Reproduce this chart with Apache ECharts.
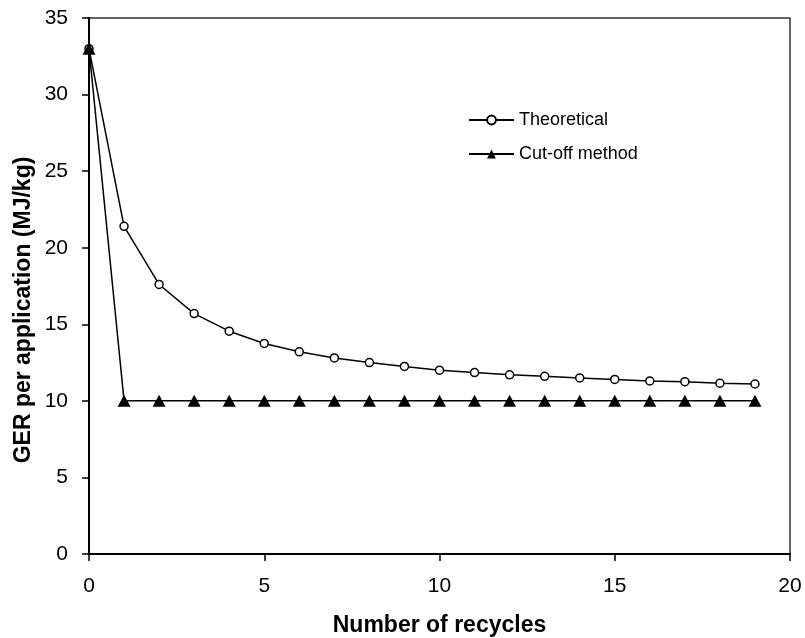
<!DOCTYPE html>
<html>
<head>
<meta charset="utf-8">
<script src="https://cdn.jsdelivr.net/npm/echarts@6/dist/echarts.min.js"></script>
<style>html,body{margin:0;padding:0;background:#fff}#c{width:805px;height:638px}</style>
</head>
<body>
<div id="c"></div>
<script>
var recycles = [0,1,2,3,4,5,6,7,8,9,10,11,12,13,14,15,16,17,18,19];
var theoretical = [33,21.4,17.6,15.7,14.55,13.75,13.2,12.8,12.5,12.25,12.0,11.85,11.7,11.6,11.5,11.4,11.3,11.25,11.15,11.1];
var cutoff = [33,10,10,10,10,10,10,10,10,10,10,10,10,10,10,10,10,10,10,10];
var xTicks = [0,5,10,15,20];
var yTicks = [0,5,10,15,20,25,30,35];

var FONT = 'Liberation Sans, Arial, sans-serif';
function pairs(xs, ys){ return xs.map(function(x,i){ return [x, ys[i]]; }); }

var chart = echarts.init(document.getElementById('c'), null, {renderer:'canvas'});
chart.setOption({
  animation: false,
  backgroundColor: '#fff',
  grid: {left: 89, right: 15, top: 18, bottom: 84, outerBoundsMode: 'none', containLabel: false, show: true, borderColor: '#333', borderWidth: 1.5, backgroundColor: 'transparent'},
  legend: {
    orient: 'vertical', left: 468, top: 111, padding: 0, itemWidth: 45, itemHeight: 11, itemGap: 16,
    textStyle: {fontFamily: FONT, fontSize: 18, color: '#000'},
    data: ['Theoretical', 'Cut-off method']
  },
  xAxis: {
    type: 'value', min: xTicks[0], max: xTicks[xTicks.length-1], interval: 5,
    name: 'Number of recycles', nameLocation: 'middle', nameGap: 60,
    nameTextStyle: {fontFamily: FONT, fontSize: 23, fontWeight: 'bold', color: '#000'},
    axisLine: {lineStyle: {color: '#000', width: 2}},
    axisTick: {show: true, inside: false, length: 7, lineStyle: {color: '#000', width: 1.5}},
    axisLabel: {fontFamily: FONT, fontSize: 21, color: '#000', margin: 22},
    splitLine: {show: false}
  },
  yAxis: {
    type: 'value', min: yTicks[0], max: yTicks[yTicks.length-1], interval: 5,
    axisLine: {show: true, lineStyle: {color: '#000', width: 2}},
    axisTick: {show: true, inside: false, length: 7, lineStyle: {color: '#000', width: 1.5}},
    axisLabel: {fontFamily: FONT, fontSize: 21, color: '#000', margin: 21},
    splitLine: {show: false}
  },
  graphic: [{
    type: 'text', x: 24, y: 310, rotation: Math.PI/2,
    style: {text: 'GER per application (MJ/kg)', fontFamily: FONT, fontSize: 23, fontWeight: 'bold', fill: '#000', align: 'center', verticalAlign: 'middle'}
  }],
  series: [
    {
      name: 'Theoretical', type: 'line', data: pairs(recycles, theoretical),
      symbol: 'circle', symbolSize: 8, showAllSymbol: true, z: 2,
      lineStyle: {color: '#000', width: 1.5},
      itemStyle: {color: '#fff', borderColor: '#000', borderWidth: 1.5}
    },
    {
      name: 'Cut-off method', type: 'line', data: pairs(recycles, cutoff),
      symbol: 'triangle', symbolSize: [13, 12], showAllSymbol: true, z: 3,
      lineStyle: {color: '#000', width: 1.5},
      itemStyle: {color: '#000', borderColor: '#000', borderWidth: 0}
    }
  ]
});
</script>
</body>
</html>
